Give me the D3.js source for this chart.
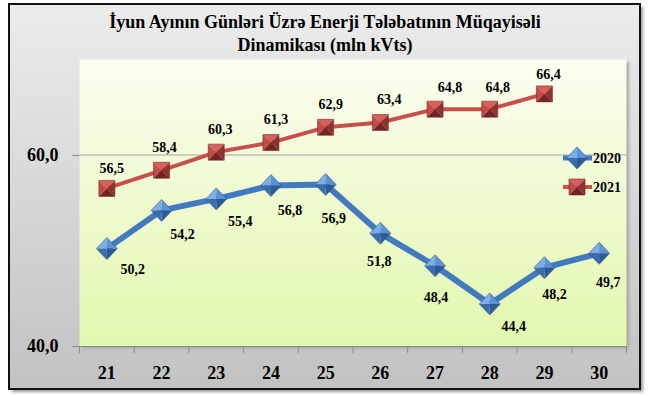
<!DOCTYPE html>
<html><head><meta charset="utf-8">
<script src="https://cdn.jsdelivr.net/npm/d3@7"></script>
<style>html,body{margin:0;padding:0;background:#fff;}svg{display:block;}</style>
</head><body>
<svg id="c" width="650" height="396"></svg>
<script>
const days = [21,22,23,24,25,26,27,28,29,30];
const values2020 = [50.2,54.2,55.4,56.8,56.9,51.8,48.4,44.4,48.2,49.7];
const values2021 = [56.5,58.4,60.3,61.3,62.9,63.4,64.8,64.8,66.4];
const seriesNames = ["2020","2021"];
const yTicks = [40,60];
const titleLines = ["İyun Ayının Günləri Üzrə Enerji Tələbatının Müqayisəli","Dinamikası (mln kVts)"];
// label placement (layout only)
const off2020 = [[26,21],[21,24],[24,22],[19,25],[8,33],[-1,28],[1,31],[24,22],[10,26],[9,29]];
const off2021 = [[5,-20],[3,-23],[4,-23],[5,-23],[5,-23],[9,-23],[15,-22],[8,-22],[4,-20]];

const svg = d3.select("#c");
const FONT = "'Liberation Serif','Times New Roman',serif";
const defs = svg.append("defs");
const g1 = defs.append("linearGradient").attr("id","bg").attr("x1",0).attr("y1",0).attr("x2",0).attr("y2",1);
g1.append("stop").attr("offset","0").attr("stop-color","#ececec");
g1.append("stop").attr("offset","1").attr("stop-color","#c2c2c2");
const g2 = defs.append("linearGradient").attr("id","pa").attr("x1",0).attr("y1",0).attr("x2",0).attr("y2",1);
g2.append("stop").attr("offset","0").attr("stop-color","#fcfdf0");
g2.append("stop").attr("offset","1").attr("stop-color","#e2f8ae");
const f = defs.append("filter").attr("id","sh").attr("x","-5%").attr("y","-5%").attr("width","115%").attr("height","115%");
f.append("feGaussianBlur").attr("stdDeviation",1.5);

// outer frame
svg.append("rect").attr("x",12).attr("y",7).attr("width",631).attr("height",385).attr("fill","#9a9a9a").attr("filter","url(#sh)");
svg.append("rect").attr("x",9).attr("y",4).attr("width",631).attr("height",385)
  .attr("fill","url(#bg)").attr("stroke","#111").attr("stroke-width",2);

const x = d3.scaleBand().domain(days).range([79.5,626.5]);
const y = d3.scaleLinear().domain([40,70]).range([346,59.5]);
const cx = d => x(d) + x.bandwidth()/2;

// plot area
svg.append("rect").attr("x",82).attr("y",62).attr("width",547).attr("height",286.5).attr("fill","#a8a8a8").attr("filter","url(#sh)");
svg.append("rect").attr("x",79.5).attr("y",59.5).attr("width",547).attr("height",286.5).attr("fill","url(#pa)");

// gridline
svg.append("g").selectAll("line").data(yTicks.filter(t=>t>40)).join("line")
  .attr("x1",79.5).attr("x2",626.5).attr("y1",d=>y(d)).attr("y2",d=>y(d))
  .attr("stroke","#a6a6a6").attr("stroke-width",1);

// y axis
const yAxis = svg.append("g").attr("transform","translate(79.5,0)")
  .call(d3.axisLeft(y).tickValues(yTicks).tickSize(7).tickPadding(14).tickFormat(d=>d3.format(".1f")(d).replace(".",",")));
yAxis.select(".domain").remove();
yAxis.selectAll("line").attr("stroke","#8c8c8c");
yAxis.selectAll("text").attr("font-family",FONT).attr("font-weight","bold").attr("font-size",18).attr("fill","#000");

// x axis
const xAxis = svg.append("g").attr("transform","translate(0,346)")
  .call(d3.axisBottom(x).tickSize(0).tickPadding(20));
xAxis.select(".domain").attr("stroke","#8c8c8c");
xAxis.selectAll("text").attr("font-family",FONT).attr("font-weight","bold").attr("font-size",18).attr("fill","#000");
const edges = days.map(d=>x(d)).concat([x(days[days.length-1])+x.bandwidth()]);
svg.append("g").selectAll("line").data(edges).join("line")
  .attr("x1",d=>d).attr("x2",d=>d).attr("y1",346).attr("y2",353).attr("stroke","#8c8c8c");

// lines
const line = d3.line().x(d=>cx(d.day)).y(d=>y(d.v));
const d2020 = days.map((d,i)=>({day:d,v:values2020[i],off:off2020[i]}));
const d2021 = values2021.map((v,i)=>({day:days[i],v:v,off:off2021[i]}));
svg.append("path").datum(d2020).attr("d",line).attr("fill","none").attr("stroke","#4279bf").attr("stroke-width",6).attr("stroke-linejoin","round");
svg.append("path").datum(d2021).attr("d",line).attr("fill","none").attr("stroke","#c8504c").attr("stroke-width",4).attr("stroke-linejoin","round");

function diamond(g, px, py){
  const w=10.5,h=11;
  const C=[px,py],L=[px-w,py],T=[px,py-h],R=[px+w,py],B=[px,py+h];
  const facets=[[C,L,T,"#7eaee6"],[C,T,R,"#5b93d6"],[C,R,B,"#2c5a96"],[C,B,L,"#3b6cab"]];
  facets.forEach(fc=>g.append("path").attr("d","M"+fc[0]+"L"+fc[1]+"L"+fc[2]+"Z").attr("fill",fc[3]));
  g.append("path").attr("d","M"+L+"L"+T+"L"+R+"L"+B+"Z").attr("fill","none").attr("stroke","#2e5a92").attr("stroke-width",0.6);
}
function square(g, px, py){
  const s=8;
  const C=[px,py],TL=[px-s,py-s],TR=[px+s,py-s],BR=[px+s,py+s],BL=[px-s,py+s];
  const facets=[[C,TL,TR,"#d8605b"],[C,BL,TL,"#c44b47"],[C,TR,BR,"#8e3330"],[C,BR,BL,"#6f2624"]];
  facets.forEach(fc=>g.append("path").attr("d","M"+fc[0]+"L"+fc[1]+"L"+fc[2]+"Z").attr("fill",fc[3]));
  g.append("path").attr("d","M"+TL+"L"+TR+"L"+BR+"L"+BL+"Z").attr("fill","none").attr("stroke","#7a2a28").attr("stroke-width",0.6);
}
const mk = svg.append("g");
d2021.forEach(d=>square(mk, cx(d.day), y(d.v)));
d2020.forEach(d=>diamond(mk, cx(d.day), y(d.v)));

// data labels
const fmt = v => d3.format(".1f")(v).replace(".",",");
svg.append("g").selectAll("text").data(d2020.concat(d2021)).join("text")
  .attr("x",d=>cx(d.day)+d.off[0]).attr("y",d=>y(d.v)+d.off[1]).attr("dy","0.35em")
  .attr("text-anchor","middle").attr("font-family",FONT).attr("font-weight","bold").attr("font-size",14)
  .text(d=>fmt(d.v));

// legend
const lg = svg.append("g");
const legY = [158,187];
lg.append("line").attr("x1",563).attr("x2",592).attr("y1",legY[0]).attr("y2",legY[0]).attr("stroke","#4279bf").attr("stroke-width",5);
diamond(lg,577,legY[0]);
lg.append("line").attr("x1",563).attr("x2",592).attr("y1",legY[1]).attr("y2",legY[1]).attr("stroke","#c8504c").attr("stroke-width",4);
square(lg,577,legY[1]);
lg.selectAll("text").data(seriesNames).join("text")
  .attr("x",593).attr("y",(d,i)=>legY[i]).attr("dy","0.35em")
  .attr("font-family",FONT).attr("font-weight","bold").attr("font-size",14).text(d=>d);

// title
svg.append("g").selectAll("text").data(titleLines).join("text")
  .attr("x",325).attr("y",(d,i)=>28+i*23).attr("text-anchor","middle")
  .attr("font-family",FONT).attr("font-weight","bold").attr("font-size",18).text(d=>d);
</script>
</body></html>
